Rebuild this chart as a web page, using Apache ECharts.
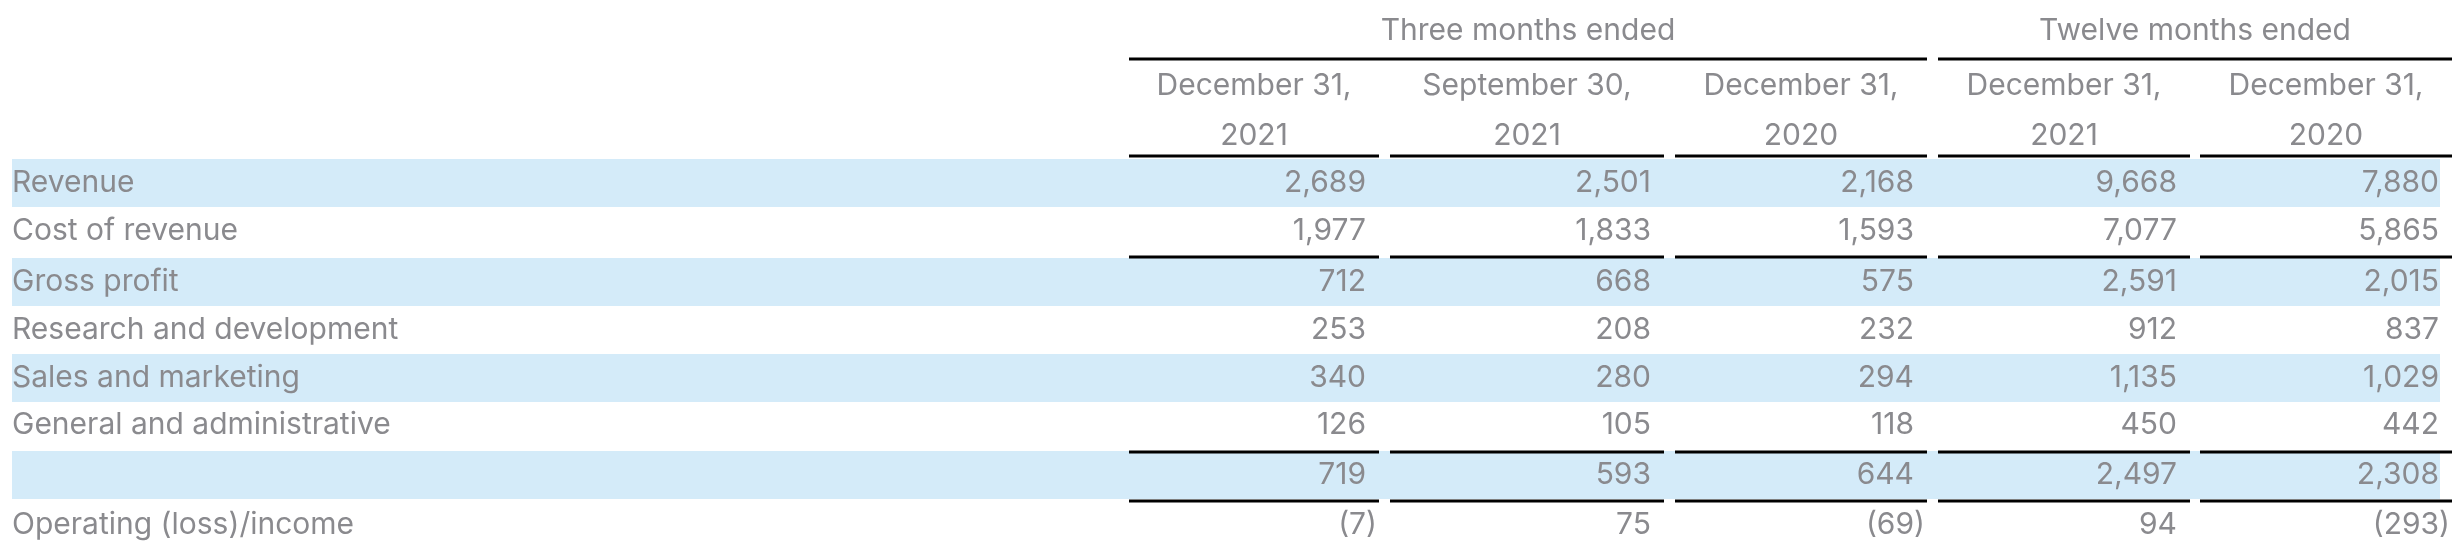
<!DOCTYPE html>
<html><head><meta charset="utf-8">
<script src="https://cdn.jsdelivr.net/npm/echarts@6/dist/echarts.min.js"></script>
<style>html,body{margin:0;padding:0;background:#fff}#c{width:2452px;height:552px}</style>
</head><body><div id="c"></div>
<script>
const rowLabels = ["Revenue","Cost of revenue","Gross profit","Research and development","Sales and marketing","General and administrative","","Operating (loss)/income"];
const groupLabels = ["Three months ended","Twelve months ended"];
const headerLine1 = ["December 31,","September 30,","December 31,","December 31,","December 31,"];
const headerLine2 = ["2021","2021","2020","2021","2020"];
const q4_2021 = [2689,1977,712,253,340,126,719,-7];
const q3_2021 = [2501,1833,668,208,280,105,593,75];
const q4_2020 = [2168,1593,575,232,294,118,644,-69];
const fy_2021 = [9668,7077,2591,912,1135,450,2497,94];
const fy_2020 = [7880,5865,2015,837,1029,442,2308,-293];
const columns = [q4_2021,q3_2021,q4_2020,fy_2021,fy_2020];

// layout (pixel space)
const seg = [[1129,1379],[1390,1664],[1675,1927],[1938,2190],[2200,2452]];
const rowY = [183,231,282,330,378,425,475,525];
const rowH = 48;
const FONT = 'Inter';
const GREY = '#8a8a8e';
const fmt = v => v < 0 ? '(' + Math.abs(v).toLocaleString('en-US') + ')' : v.toLocaleString('en-US');

const items = [];
[0,2,4,6].forEach(r => items.push({t:'band', y:rowY[r]}));
seg.forEach(s => { [156,257,452,501].forEach(y => items.push({t:'line', x1:s[0], x2:s[1], y})); });
items.push({t:'line', x1:seg[0][0], x2:seg[2][1], y:59});
items.push({t:'line', x1:seg[3][0], x2:seg[4][1], y:59});
items.push({t:'text', x:(seg[0][0]+seg[2][1])/2, y:31, s:groupLabels[0], a:'center'});
items.push({t:'text', x:(seg[3][0]+seg[4][1])/2, y:31, s:groupLabels[1], a:'center'});
seg.forEach((s,i) => {
  items.push({t:'text', x:(s[0]+s[1])/2, y:86, s:headerLine1[i], a:'center'});
  items.push({t:'text', x:(s[0]+s[1])/2, y:136, s:headerLine2[i], a:'center'});
});
rowLabels.forEach((l,r) => { if (l) items.push({t:'text', x:12, y:rowY[r], s:l, a:'left'}); });
columns.forEach((col,c) => col.forEach((v,r) => {
  items.push({t:'text', x: seg[c][1] - (v < 0 ? 2 : 13), y: rowY[r], s: fmt(v), a:'right'});
}));

const chart = echarts.init(document.getElementById('c'), null, {renderer:'canvas'});
chart.setOption({
  animation:false,
  grid:{left:0,right:0,top:0,bottom:0},
  xAxis:{type:'value',min:0,max:2452,show:false},
  yAxis:{type:'value',min:0,max:552,inverse:true,show:false},
  series:[{
    type:'custom', coordinateSystem:'cartesian2d',
    data: items.map((d,i)=>[i]),
    renderItem:(params, api) => {
      const d = items[api.value(0)];
      if (d.t === 'band') {
        const p0 = api.coord([12, d.y - rowH/2]), p1 = api.coord([2440, d.y + rowH/2]);
        return {type:'rect', z2:0, shape:{x:p0[0],y:p0[1],width:p1[0]-p0[0],height:p1[1]-p0[1]}, style:{fill:'#d4ebf9'}};
      }
      if (d.t === 'line') {
        const p0 = api.coord([d.x1, d.y]), p1 = api.coord([d.x2, d.y]);
        return {type:'line', z2:5, shape:{x1:p0[0],y1:p0[1],x2:p1[0],y2:p1[1]}, style:{stroke:'#000',lineWidth:3}};
      }
      const p = api.coord([d.x, d.y]);
      return {type:'text', z2:10, x:p[0], y:p[1], style:{text:d.s, fill:GREY, font:'30px '+FONT, align:d.a, verticalAlign:'middle'}};
    }
  }]
});
</script></body></html>
